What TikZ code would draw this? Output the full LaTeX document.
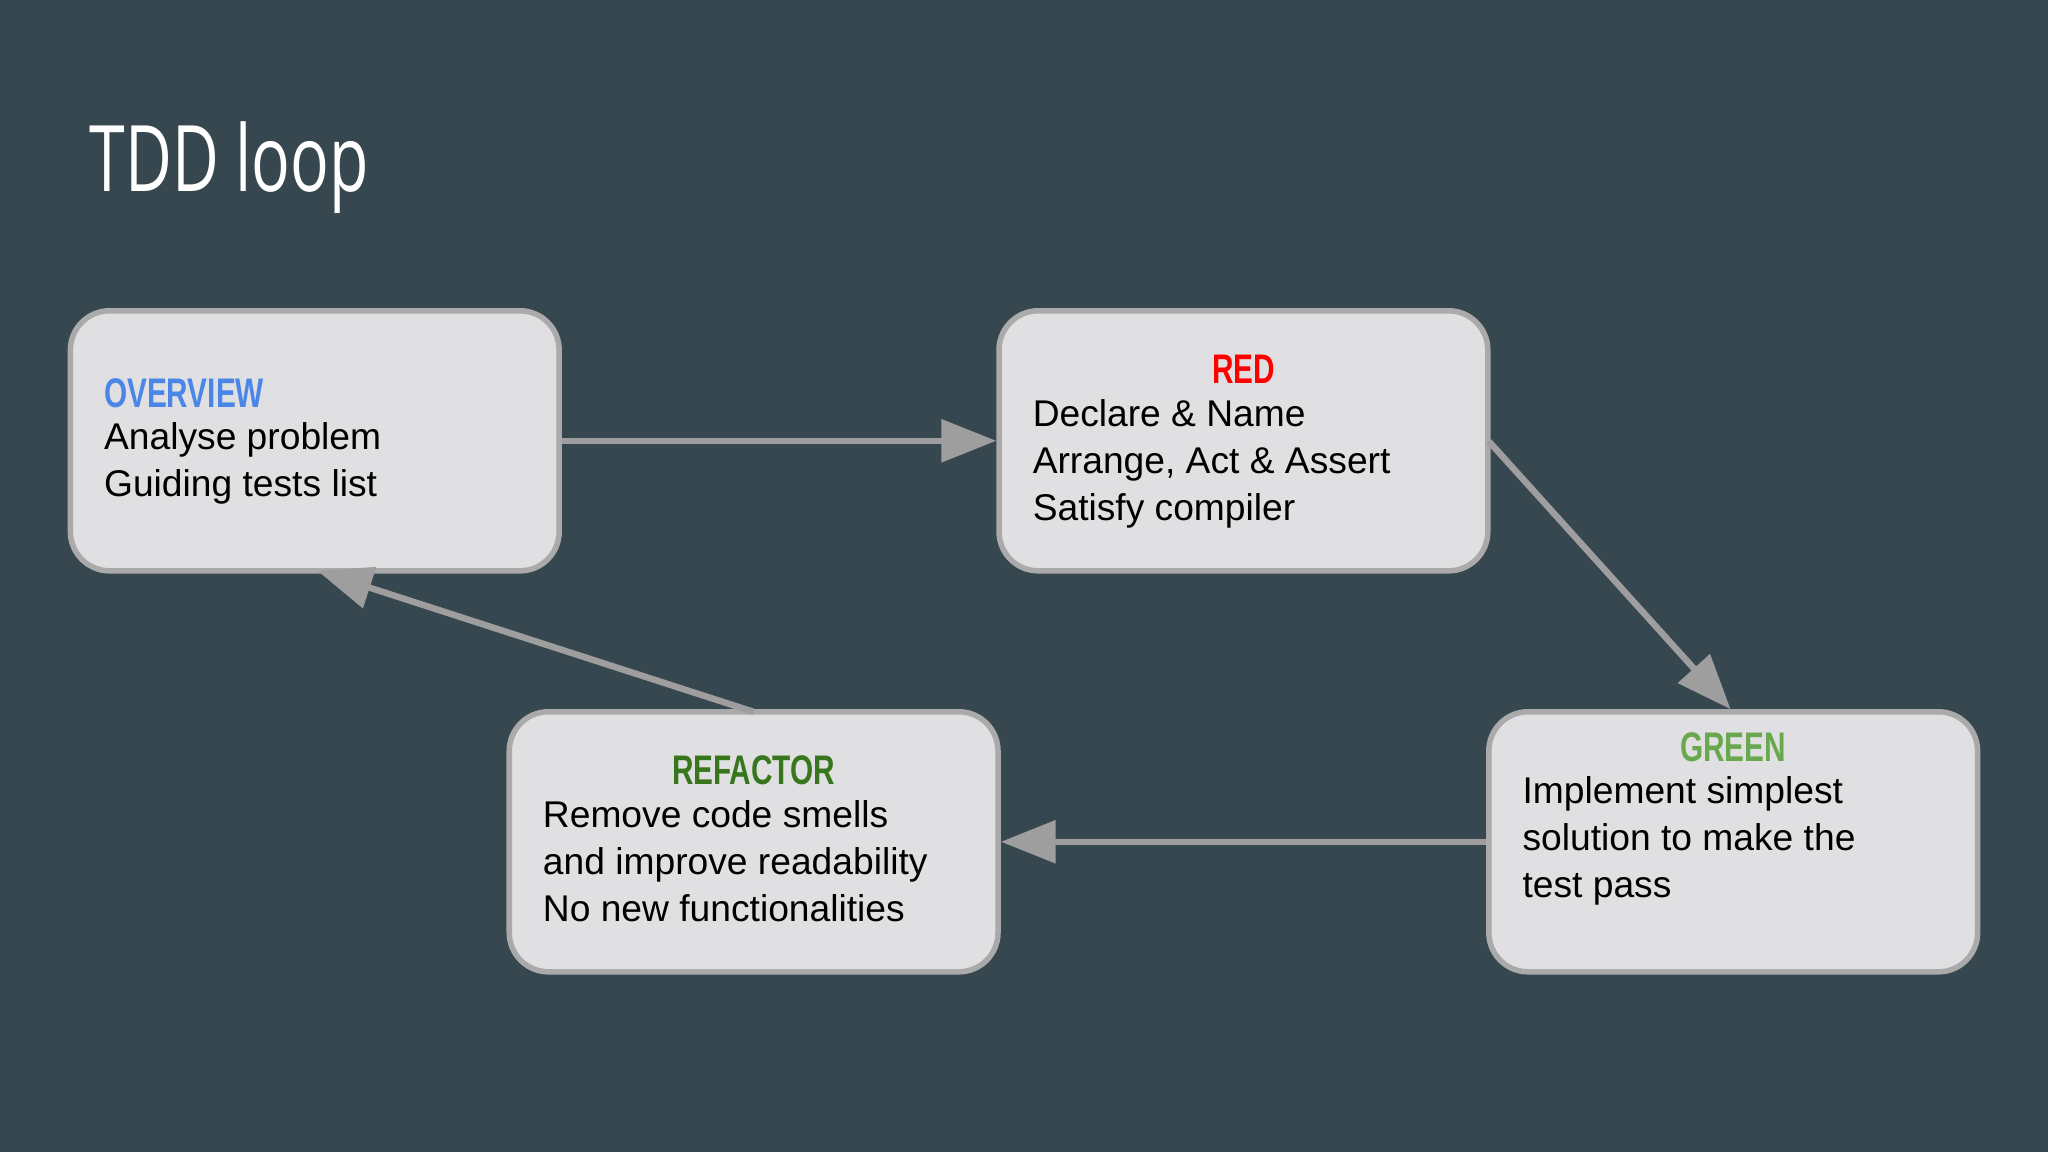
\documentclass[tikz,border=0pt]{standalone}
\usepackage{fontspec}
\setmainfont{Liberation Sans}
\newfontfamily\condfont[FakeStretch=0.72]{Liberation Sans}
\newfontfamily\titlefont[FakeStretch=0.7]{Open Sans}
\usetikzlibrary{arrows.meta}
\definecolor{bg}{RGB}{55,71,79}
\definecolor{boxfill}{RGB}{224,224,226}
\definecolor{boxline}{RGB}{170,170,170}
\definecolor{arr}{RGB}{158,158,158}
\definecolor{cblue}{RGB}{74,134,232}
\definecolor{cred}{RGB}{255,0,0}
\definecolor{cgreen}{RGB}{106,168,79}
\definecolor{cdgreen}{RGB}{56,118,29}
\tikzset{
 box/.style={draw=boxline,line width=1.2pt,fill=boxfill,rounded corners=0.3cm,minimum width=3.74cm,minimum height=1.99cm,inner sep=0pt},
 txt/.style={align=left,anchor=north west,inner sep=0pt,font=\fontsize{8.1pt}{10.25pt}\selectfont,text=black},
 head/.style={inner sep=0pt,font=\condfont\bfseries\fontsize{9pt}{10pt}\selectfont},
 link/.style={draw=arr,line width=1.4pt,-{Triangle[length=0.42cm,width=0.32cm]}}
}
\begin{document}
\begin{tikzpicture}[x=0.01cm,y=-0.01cm]
\useasboundingbox[fill=bg] (0,0) rectangle (1568,882);
\node[anchor=west,text=white,inner sep=0pt,font=\titlefont\fontsize{20pt}{22pt}\selectfont] (title) at (68,128) {TDD loop};
\node[box] (ov) at (241,337.5) {};
\node[box] (red) at (952,337.5) {};
\node[box] (gr) at (1327,644.5) {};
\node[box] (rf) at (577,644.5) {};
\node[head,anchor=west,text=cblue] (ovh) at (79,301) {OVERVIEW};
\node[txt] (ovt) at (79,323) {Analyse problem\\Guiding tests list};
\node[head,text=cred] (redh) at (952,283) {RED};
\node[txt] (redt) at (790,305) {Declare \& Name\\Arrange, Act \& Assert\\Satisfy compiler};
\node[head,text=cgreen] (grh) at (1327,572) {GREEN};
\node[txt] (grt) at (1165,594) {Implement simplest\\solution to make the\\test pass};
\node[head,text=cdgreen] (rfh) at (577,590) {REFACTOR};
\node[txt] (rft) at (415,612) {Remove code smells\\and improve readability\\No new functionalities};
\coordinate (c1) at (1140,338);
\coordinate (c2) at (1325,543);
\coordinate (c3) at (577,545);
\coordinate (c4) at (243,437);
\draw[link] (ov.east) -- (red.west);
\draw[link] (c1) -- (c2);
\draw[link] (gr.west) -- (rf.east);
\draw[link] (c3) -- (c4);
\end{tikzpicture}
\end{document}
